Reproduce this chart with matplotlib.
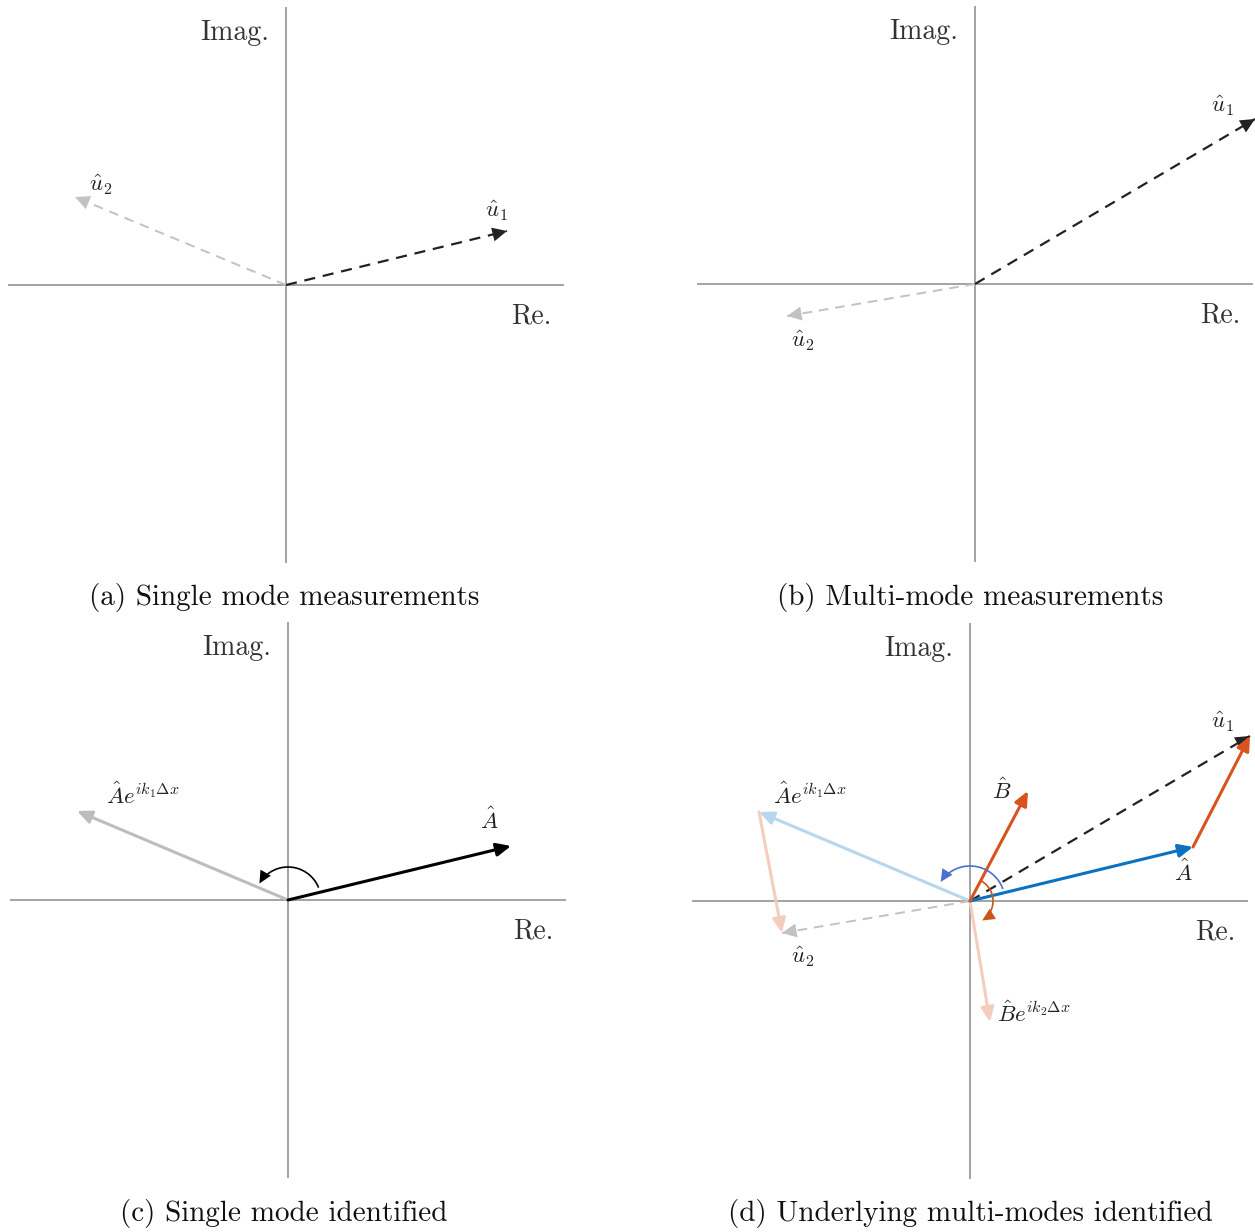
import numpy as np
import matplotlib
matplotlib.use("Agg")
import matplotlib.pyplot as plt

plt.rcParams['font.family'] = 'serif'
plt.rcParams['font.serif'] = ['cmr10', 'DejaVu Serif']
plt.rcParams['mathtext.fontset'] = 'cm'
plt.rcParams['axes.formatter.use_mathtext'] = True

# vectors (pixel units relative to each origin, y up)
A_vec = (223, 54)
Ae_vec = (-211, 89)
B_vec = (58, 110)
Be_vec = (20, -121)
u1_single = (221, 54)
u2_single = (-211, 88)
u1_multi = (280, 165)
u2_multi = (-188, -32)

captions = ["(a) Single mode measurements", "(b) Multi-mode measurements",
            "(c) Single mode identified", "(d) Underlying multi-modes identified"]
# panel origins in the image (px) and caption centres
origins = [(286, 285), (975, 284), (288, 900), (970, 901)]
caption_pos = [(284, 598), (970, 598), (284, 1214), (970, 1214)]

W, H = 1255, 1232
R = 278

BLUE = '#0a72c0'
ORANGE = '#d9531e'
LBLUE = '#b6d7ee'
LORANGE = '#f5cdbd'
GREY = '#c2c2c2'

fig = plt.figure(figsize=(W / 100, H / 100), dpi=100)


def make_ax(cx, cy):
    ax = fig.add_axes([(cx - R) / W, (H - cy - R) / H, 2 * R / W, 2 * R / H])
    ax.set_xlim(-R, R)
    ax.set_ylim(-R, R)
    ax.axis('off')
    ax.plot([-R, R], [0, 0], color='#8a8a8a', lw=1.1, zorder=1)
    ax.plot([0, 0], [-R, R], color='#8a8a8a', lw=1.1, zorder=1)
    return ax


def head(ax, start, end, color, scale=14, z=3):
    ax.annotate('', xy=end, xytext=start,
                arrowprops=dict(arrowstyle='-|>,head_length=0.75,head_width=0.36',
                                color=color, lw=0, shrinkA=0, shrinkB=0,
                                mutation_scale=scale),
                annotation_clip=False, zorder=z)


def dashed_arrow(ax, start, end, color, lw=1.3, z=2):
    ax.plot([start[0], end[0]], [start[1], end[1]], color=color, lw=lw,
            ls=(0, (5, 3.5)), zorder=z, clip_on=False)
    d = np.array(end, float) - np.array(start, float)
    d = d / np.hypot(*d)
    head(ax, tuple(np.array(end) - d * 6), end, color, z=z + 1)


def solid_arrow(ax, start, end, color, lw=2.0, z=3):
    ax.annotate('', xy=end, xytext=start,
                arrowprops=dict(arrowstyle='-|>,head_length=0.75,head_width=0.34',
                                color=color, lw=lw, shrinkA=0, shrinkB=0,
                                mutation_scale=11.5),
                annotation_clip=False, zorder=z)


def arc(ax, r, a0, a1, color, scale=12, z=4):
    # arc line, then a filled head at its end pointing along the tangent
    t = np.radians(np.linspace(a0, a1, 60))
    x, y = r * np.cos(t), r * np.sin(t)
    ax.plot(x[:-4], y[:-4], color=color, lw=1.2, zorder=z, solid_capstyle='butt')
    s = np.sign(a1 - a0)
    tang = np.array([-np.sin(t[-1]), np.cos(t[-1])]) * s
    tip = np.array([x[-1], y[-1]])
    head(ax, tuple(tip - tang * 5), tuple(tip), color, scale=scale, z=z)


def axis_labels(ax):
    ax.text(-17, 252, 'Imag.', ha='right', va='center', fontsize=20, color='#333333')
    ax.text(245, -31, 'Re.', ha='center', va='center', fontsize=20, color='#333333')


def mlabel(ax, x, y, s):
    ax.text(x, y, s, ha='center', va='center', fontsize=16.5, color='#222222')


axes = [make_ax(*o) for o in origins]
for ax in axes:
    axis_labels(ax)

# (a)
ax = axes[0]
dashed_arrow(ax, (0, 0), u2_single, GREY, lw=1.4)
dashed_arrow(ax, (0, 0), u1_single, '#222222', lw=1.6)
mlabel(ax, 210, 74, r'$\hat{u}_1$')
mlabel(ax, -185, 100, r'$\hat{u}_2$')

# (b)
ax = axes[1]
dashed_arrow(ax, (0, 0), u2_multi, GREY, lw=1.4)
dashed_arrow(ax, (0, 0), u1_multi, '#222222', lw=1.6)
mlabel(ax, 247, 178, r'$\hat{u}_1$')
mlabel(ax, -172, -57, r'$\hat{u}_2$')

# (c)
ax = axes[2]
solid_arrow(ax, (0, 0), Ae_vec, '#bdbdbd', lw=2.2)
solid_arrow(ax, (0, 0), A_vec, 'black', lw=2.2)
arc(ax, 33, 22, 150, 'black')
mlabel(ax, 201, 80, r'$\hat{A}$')
mlabel(ax, -145, 105, r'$\hat{A}e^{ik_1\Delta x}$')

# (d)
ax = axes[3]
solid_arrow(ax, (0, 0), Ae_vec, LBLUE, lw=2.2, z=2)
solid_arrow(ax, Ae_vec, u2_multi, LORANGE, lw=2.2, z=2)
dashed_arrow(ax, (0, 0), u2_multi, GREY, lw=1.4, z=3)
solid_arrow(ax, (0, 0), Be_vec, LORANGE, lw=2.2, z=2)
dashed_arrow(ax, (0, 0), u1_multi, '#222222', lw=1.6, z=3)
solid_arrow(ax, (0, 0), A_vec, BLUE, lw=2.2, z=5)
solid_arrow(ax, A_vec, u1_multi, ORANGE, lw=2.2, z=5)
solid_arrow(ax, (0, 0), B_vec, ORANGE, lw=2.2, z=5)
arc(ax, 35, 20, 147, '#4a70d2', z=6)
arc(ax, 23, 60, -58, '#c8561a', scale=12, z=6)
mlabel(ax, 252, 179, r'$\hat{u}_1$')
mlabel(ax, 32, 111, r'$\hat{B}$')
mlabel(ax, -160, 106, r'$\hat{A}e^{ik_1\Delta x}$')
mlabel(ax, 213, 29, r'$\hat{A}$')
mlabel(ax, -167, -56, r'$\hat{u}_2$')
mlabel(ax, 64, -112, r'$\hat{B}e^{ik_2\Delta x}$')

for s, (x, y) in zip(captions, caption_pos):
    fig.text(x / W, 1 - y / H, s, ha='center', va='center', fontsize=21, color='#111111')

fig.savefig('out.png', dpi=100, facecolor='white')
